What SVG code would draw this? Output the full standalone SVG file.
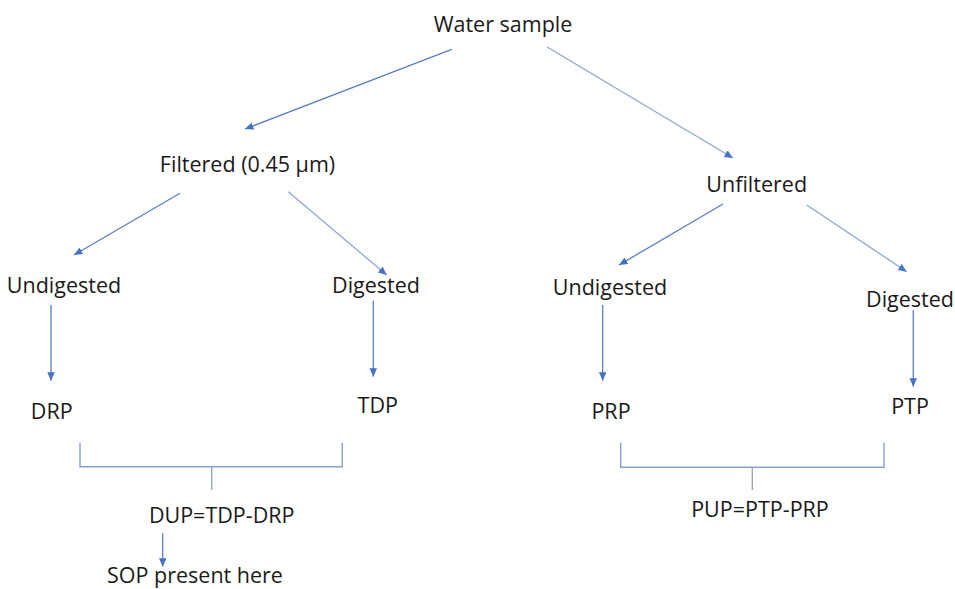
<svg xmlns="http://www.w3.org/2000/svg" width="955" height="589" viewBox="0 0 955 589">
<style>
.lbl{font-family:"Open Sans","Liberation Sans",sans-serif;font-size:21.5px;fill:#1a1a1a;text-anchor:middle}
.arr{stroke:#5a7fc2;stroke-width:1.3;fill:none;marker-end:url(#ah)}
.arr2{stroke:#8ea8d6;stroke-width:1.3;fill:none;marker-end:url(#ah)}
.brk{stroke:#86a1d2;stroke-width:1.4;fill:none}
.stem{stroke:#9aa6b8;stroke-width:1.4;fill:none}
</style>
<defs>
<marker id="ah" markerUnits="userSpaceOnUse" markerWidth="9" markerHeight="8" refX="8.5" refY="3.75" orient="auto">
<path d="M0,0 L8.5,3.75 L0,7.5 z" fill="#4472c4"/>
</marker>
</defs>
<rect width="955" height="589" fill="#ffffff"/>
<g id="connectors">
<line class="arr" x1="451.7" y1="49.3" x2="245" y2="129"/>
<line class="arr2" x1="546.7" y1="46.7" x2="733" y2="158"/>
<line class="arr" x1="180" y1="193.3" x2="74" y2="255"/>
<line class="arr2" x1="288.3" y1="191.7" x2="386.7" y2="275"/>
<line class="arr" x1="723" y1="204" x2="619" y2="265"/>
<line class="arr2" x1="806.7" y1="205" x2="906.7" y2="271.7"/>
<line class="arr" x1="51" y1="305" x2="51" y2="380.7"/>
<line class="arr" x1="373.3" y1="300.7" x2="373.3" y2="376.7"/>
<line class="arr" x1="602.7" y1="305" x2="602.7" y2="380.7"/>
<line class="arr" x1="913.3" y1="310" x2="913.3" y2="386.7"/>
<polyline class="brk" points="80,442.7 80,466.7 342.3,466.7 342.3,442.7"/>
<line class="stem" x1="211.7" y1="466.7" x2="211.7" y2="490"/>
<polyline class="brk" points="620.7,442.7 620.7,467.3 884,467.3 884,442.7"/>
<line class="stem" x1="752.3" y1="467.3" x2="752.3" y2="490"/>
<line class="arr" x1="162.7" y1="533.3" x2="162.7" y2="566.7"/>
</g>
<g id="water"><text class="lbl" x="503" y="31.5">Water sample</text></g>
<g id="filtered"><text class="lbl" x="247.5" y="171.7">Filtered (0.45 µm)</text></g>
<g id="unfiltered"><text class="lbl" x="756.7" y="191.7">Unfiltered</text></g>
<g id="undigested-f"><text class="lbl" x="64" y="292.7">Undigested</text></g>
<g id="digested-f"><text class="lbl" x="376" y="292.7">Digested</text></g>
<g id="undigested-u"><text class="lbl" x="610" y="295">Undigested</text></g>
<g id="digested-u"><text class="lbl" x="910" y="306.7">Digested</text></g>
<g id="drp"><text class="lbl" x="51.7" y="419.3">DRP</text></g>
<g id="tdp"><text class="lbl" x="377.8" y="412.7">TDP</text></g>
<g id="prp"><text class="lbl" x="611" y="419.3">PRP</text></g>
<g id="ptp"><text class="lbl" x="910" y="414.3">PTP</text></g>
<g id="dup"><text class="lbl" x="221.7" y="523.3">DUP=TDP-DRP</text></g>
<g id="pup"><text class="lbl" x="760" y="517.3">PUP=PTP-PRP</text></g>
<g id="sop"><text class="lbl" x="195" y="582.5">SOP present here</text></g>
</svg>
